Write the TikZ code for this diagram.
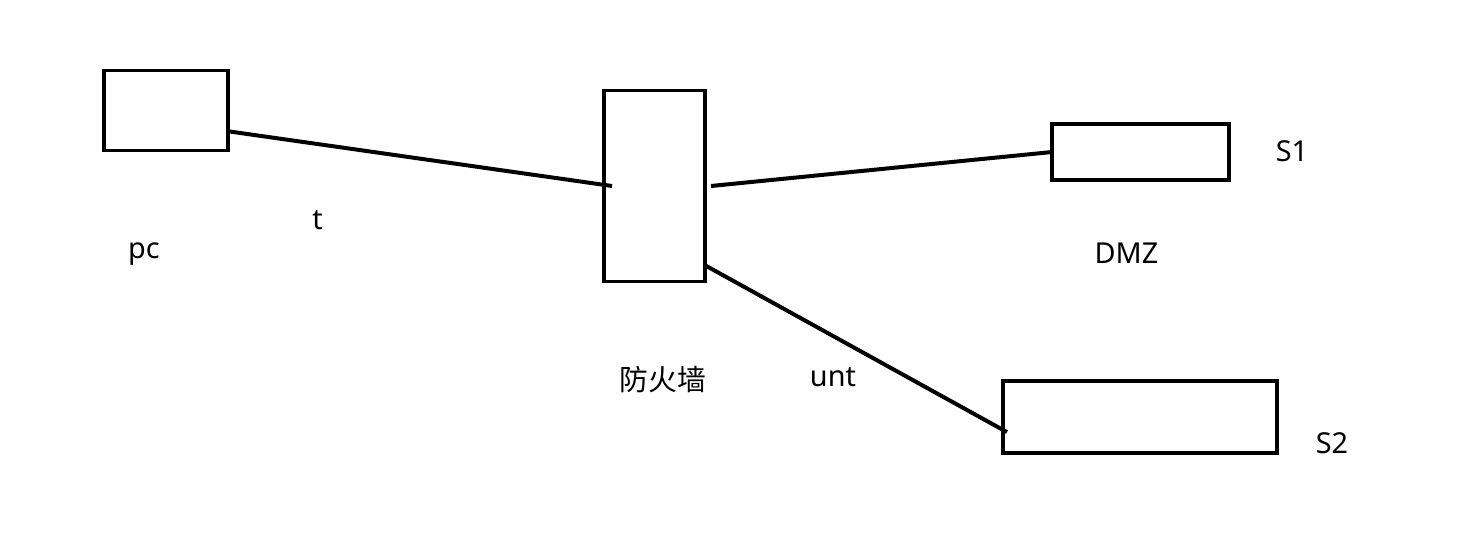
\documentclass[tikz,border=0pt]{standalone}
\usepackage{fontspec}
\setmainfont{Noto Sans}
\newfontfamily\cjk{Noto Sans CJK SC}
\usetikzlibrary{positioning,calc}
\definecolor{lineC}{RGB}{0,0,0}
\tikzset{
    box/.style   = {draw=lineC, line width=2.27pt, inner sep=0pt, outer sep=0pt},
    link/.style  = {draw=lineC, line width=2.27pt},
    lbl/.style   = {font=\fontsize{16.4}{20}\selectfont, inner sep=0pt, anchor=base},
}
\begin{document}
\begin{tikzpicture}
    \useasboundingbox (0,0) rectangle (29.64,10.82);

    % boxes
    \node[box, minimum width=2.49cm, minimum height=1.60cm] (pc) at (3.32,8.61) {};
    \node[box, minimum width=2.02cm, minimum height=3.82cm] (fw) at (13.09,7.10) {};
    \node[box, minimum width=3.53cm, minimum height=1.11cm] (s1) at (22.81,7.78) {};
    \node[box, minimum width=5.48cm, minimum height=1.44cm] (s2) at (22.80,2.48) {};

    % labels
    \node[lbl] (pcL)  at (2.88,5.64)  {pc};
    \node[lbl] (tL)   at (6.35,6.22)  {t};
    \node[lbl, anchor=center] (fwL) at (13.26,3.22) {\cjk 防火墙};
    \node[lbl] (untL) at (16.66,3.10) {unt};
    \node[lbl] (dmzL) at (22.53,5.54) {DMZ};
    \node[lbl] (s1L)  at (25.84,7.59) {S1};
    \node[lbl] (s2L)  at (26.64,1.75) {S2};

    % connector end points
    \coordinate (pcOut) at ($(pc.south east)!0.24!(pc.north east)$);
    \coordinate (fwIn)  at ($(fw.west)+(0.16,0)$);
    \coordinate (fwOut) at ($(fw.east)+(0.12,0)$);
    \coordinate (fwLow) at ($(fw.south east)!0.085!(fw.north east)$);
    \coordinate (s2In)  at ($(s2.south west)!0.29!(s2.north west)+(0.08,0)$);

    % links
    \draw[link] (pcOut) -- (fwIn);
    \draw[link] (fwOut) -- (s1.west);
    \draw[link] (fwLow) -- (s2In);
\end{tikzpicture}
\end{document}
